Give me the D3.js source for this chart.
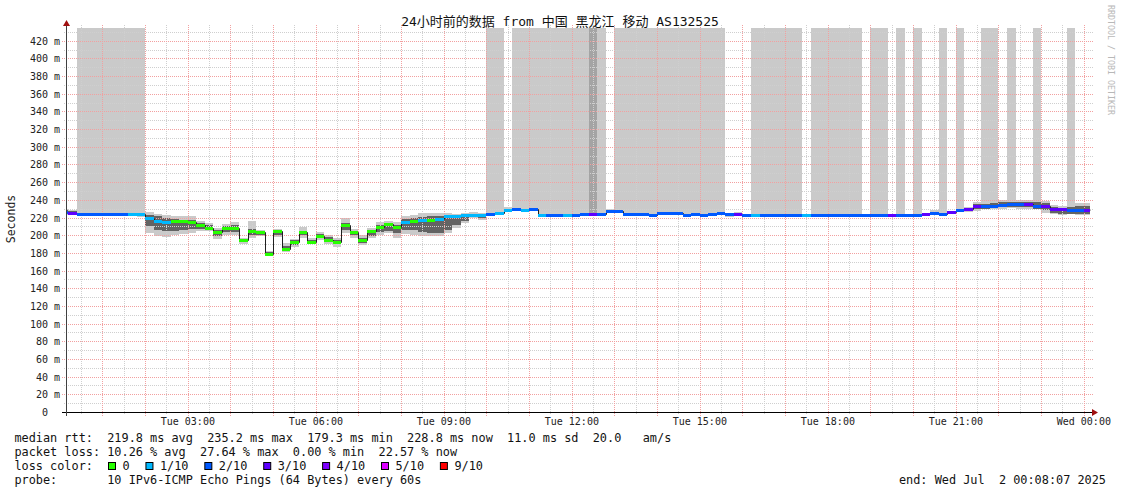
<!DOCTYPE html>
<html><head><meta charset="utf-8">
<script src="https://cdn.jsdelivr.net/npm/d3@7"></script>
<style>
body{margin:0;background:#fff;}
text{font-family:"DejaVu Sans Mono","Noto Sans CJK SC",monospace;white-space:pre;}
</style>
</head><body>
<svg id="chart" width="1121" height="494"></svg>
<script>
// ---------------- DATA ----------------
const N = null;
// 12-minute steps starting Tue 2025-07-01 00:00 (index 0) to Wed 00:00 (index 120)
const median = [
226.2,224.7,224.2,224.2,224.2,224.2,224.2,223.6,223.6,223.6,
219.0,216.3,214.5,216.3,215.6,214.8,211.8,208.4,203.5,207.7,
207.7,194.1,204.3,203.5,179.3,204.7,184.0,192.6,203.5,191.9,
198.6,194.5,192.2,211.1,203.5,194.5,204.7,209.2,212.6,209.2,
215.2,216.3,217.0,217.5,218.0,221.6,221.6,223.0,223.3,223.0,
223.6,225.2,229.0,230.0,228.4,229.4,223.4,223.3,223.3,223.3,
223.3,223.8,224.3,224.3,227.3,227.5,224.5,224.3,224.3,223.2,
225.5,225.5,225.5,223.3,223.6,223.0,223.6,224.6,224.3,224.3,
223.3,223.3,223.3,223.3,223.3,223.3,223.3,223.3,223.2,223.2,
223.2,223.2,223.2,223.2,223.2,223.2,223.2,223.2,223.2,223.2,
223.2,224.3,225.4,224.5,225.8,228.4,229.2,233.0,233.0,233.5,
234.5,235.2,234.8,234.8,233.6,233.6,229.6,229.2,228.7,228.7,228.0];
// lost pings (of 10) per step
const lostPings = [
2,3,2,2,2,2,2,2,1,1,
1,1,1,0,0,0,0,0,0,0,
0,0,0,0,0,0,0,0,0,0,
0,0,0,0,0,0,0,0,0,0,
1,0,1,0,1,1,1,1,1,1,
2,1,1,2,1,2,1,2,2,1,
2,2,3,2,2,2,2,2,2,2,
2,2,2,2,2,2,2,2,2,3,
2,1,2,2,2,2,2,1,2,2,
2,2,2,2,2,2,2,3,2,2,
2,3,2,2,3,2,3,3,2,2,
2,2,2,3,2,3,3,3,2,2,3];
// number of pings above the top of the chart per step
const offScale = [
0,0,1,1,1,1,1,1,1,1,
0,0,0,0,0,0,0,0,0,0,
0,0,0,0,0,0,0,0,0,0,
0,0,0,0,0,0,0,0,0,0,
0,0,0,0,0,0,0,0,0,0,
1,1,0,1,1,1,1,1,1,1,
1,1,2,1,0,1,1,1,1,1,
1,1,1,1,1,1,1,1,0,0,
0,1,1,1,1,1,1,0,1,1,
1,1,1,1,0,1,1,0,1,0,
1,0,0,1,0,1,0,0,1,1,
0,1,0,0,1,0,0,0,1,0,0];
// outer smoke (ms)
const smokeLo = [
222.4,222.4,224.2,224.2,224.2,224.2,224.2,223.6,223.6,221.0,
202.4,198.6,197.5,200.2,201.7,202.4,204.3,204.3,195.6,200.5,
200.5,190.4,196.8,198.6,177.2,198.0,180.6,186.6,197.0,189.6,
195.0,190.4,187.0,202.0,197.0,188.9,196.4,200.5,202.4,196.8,
201.7,200.5,199.4,198.6,198.6,202.4,208.1,213.7,219.3,217.5,
223.6,225.2,227.5,230.0,228.4,229.4,223.4,223.3,223.3,223.3,
223.3,223.8,224.3,224.3,225.5,227.5,224.5,224.3,224.3,223.2,
225.5,225.5,225.5,223.3,223.6,223.0,223.6,224.6,221.0,223.0,
222.5,223.3,223.3,223.3,223.3,223.3,223.3,222.5,223.2,223.2,
223.2,223.2,223.2,223.2,N,223.2,223.2,N,223.2,N,
223.2,N,224.0,224.5,224.5,228.4,226.0,227.3,229.1,230.0,
229.9,231.0,229.1,229.1,229.5,225.4,224.3,223.1,224.0,223.1,223.1];
const smokeHi = [
230.0,229.0,N,N,N,N,N,N,N,N,
225.7,224.2,223.1,222.0,221.2,221.2,215.6,213.7,208.1,212.6,
214.5,196.8,215.6,206.2,181.7,206.6,191.1,196.0,208.8,196.8,
203.2,200.2,196.8,219.0,207.0,200.2,207.7,215.0,216.0,214.5,
221.2,223.1,224.6,224.6,224.6,224.6,224.5,225.4,226.5,224.6,
N,N,231.5,N,N,N,N,N,N,N,
N,N,N,N,229.5,N,N,N,N,N,
N,N,N,N,N,N,N,N,225.5,226.5,
224.5,N,N,N,N,N,N,224.3,N,N,
N,N,N,N,N,N,N,N,N,N,
N,N,228.0,N,227.0,N,231.8,237.0,N,N,
239.3,N,239.3,239.3,N,238.6,233.7,232.6,N,236.3,236.3];
// dark smoke core (ms)
const coreLo = [
224.0,223.5,N,N,N,N,N,N,N,N,
210.0,206.2,204.3,204.3,206.2,207.0,207.5,206.2,199.0,203.5,
203.5,192.0,200.0,200.5,178.5,200.5,182.0,189.0,200.0,190.5,
196.5,192.0,189.5,206.0,200.0,191.0,199.0,204.0,205.0,202.0,
206.0,205.5,204.0,203.0,203.0,206.0,212.0,216.0,221.0,219.5,
N,N,228.0,N,N,N,N,N,N,N,
N,N,N,N,226.5,N,N,N,N,N,
N,N,N,N,N,N,N,N,N,N,
N,N,N,N,N,N,N,N,N,N,
N,N,N,N,N,N,N,N,N,N,
N,N,N,N,N,N,227.5,230.0,230.0,231.0,
231.5,231.5,231.5,231.5,229.5,228.0,225.0,224.2,224.0,224.2,224.2];
const coreHi = [
228.0,227.0,N,N,N,N,N,N,N,N,
223.1,221.2,219.3,218.2,217.5,217.5,213.7,211.0,206.0,210.5,
211.0,196.0,207.0,205.0,181.0,205.5,188.0,194.5,205.0,194.5,
201.0,198.0,194.5,214.0,205.0,197.0,205.5,212.0,214.0,211.0,
218.0,220.0,221.0,221.5,222.0,223.0,223.0,224.0,224.5,223.5,
N,N,230.0,N,N,N,N,N,N,N,
N,N,N,N,228.5,N,N,N,N,N,
N,N,N,N,N,N,N,N,N,N,
N,N,N,N,N,N,N,N,N,N,
N,N,N,N,N,N,N,N,N,N,
N,N,N,N,N,N,230.5,235.5,235.5,236.0,
237.5,237.5,237.5,237.5,237.0,236.5,232.0,231.0,232.0,233.5,233.5];

const yTicks = [0,20,40,60,80,100,120,140,160,180,200,220,240,260,280,300,320,340,360,380,400,420];
const yTickLabels = ["0","20 m","40 m","60 m","80 m","100 m","120 m","140 m","160 m","180 m","200 m","220 m","240 m","260 m","280 m","300 m","320 m","340 m","360 m","380 m","400 m","420 m"];
const xTickHours = [3,6,9,12,15,18,21,24];
const xTickLabels = ["Tue 03:00","Tue 06:00","Tue 09:00","Tue 12:00","Tue 15:00","Tue 18:00","Tue 21:00","Wed 00:00"];

const lossBuckets = [0,1,2,3,4,5,9];
const lossLabels = ["0","1/10","2/10","3/10","4/10","5/10","9/10"];
const lossColors = ["#26ff00","#00b8ff","#0059ff","#5e00ff","#7e00ff","#dd00ff","#ff0000"];

const rttStats = ["219.8","235.2","179.3","228.8","11.0","20.0"];
const lossStats = ["10.26","27.64","0.00","22.57"];

const titleText = "24小时前的数据 from 中国 黑龙江 移动 AS132525";
const probeText = "10 IPv6-ICMP Echo Pings (64 Bytes) every 60s";
const endText = "end: Wed Jul  2 00:08:07 2025";

// ---------------- CHART ----------------
const svg = d3.select("#chart");
svg.append("rect").attr("width",1121).attr("height",494).attr("fill","#fff");

const t0 = new Date(Date.UTC(2025,6,1,0,8,7));
const t1 = new Date(Date.UTC(2025,6,2,0,8,7));
const origin = Date.UTC(2025,6,1,0,0,0);
const stepMs = 12*60*1000;
const L = 65.6, R = 1089.6, T = 28, B = 412;
const x = d3.scaleUtc().domain([t0,t1]).range([L,R]);
const y = d3.scaleLinear().domain([0,434.4]).range([B,T]);

const steps = median.map((m,i)=>({
  i, m,
  s: new Date(Math.max(+t0, origin+i*stepMs)),
  e: new Date(Math.min(+t1, origin+(i+1)*stepMs))
})).filter(d=>d.e>d.s);

const AX = Math.round(L); // y axis pixel column
svg.append("defs").append("clipPath").attr("id","plot")
  .append("rect").attr("x",AX+1).attr("y",T).attr("width",R-AX).attr("height",B-T);

const plot = svg.append("g").attr("clip-path","url(#plot)");
const px = v => Math.round(x(v));

// smoke
const smokeG = plot.append("g").attr("shape-rendering","crispEdges");
steps.forEach(d=>{
  const i=d.i;
  if (smokeLo[i]==null) return;
  const x0=px(d.s), x1=px(d.e);
  let top;
  if (offScale[i]>0) top=T; else if (smokeHi[i]!=null) top=y(smokeHi[i]); else return;
  smokeG.append("rect").attr("x",x0).attr("width",x1-x0)
    .attr("y",top).attr("height",Math.max(0,y(smokeLo[i])-top))
    .attr("fill", offScale[i]>=2 ? "#a4a4a4" : "#cacaca");
});
steps.forEach(d=>{
  const i=d.i;
  if (coreLo[i]==null) return;
  const x0=px(d.s), x1=px(d.e);
  smokeG.append("rect").attr("x",x0).attr("width",x1-x0)
    .attr("y",y(coreHi[i])).attr("height",y(coreLo[i])-y(coreHi[i]))
    .attr("fill","#636363");
});

// grid
const gridG = svg.append("g");
const GR = 1093;
const minorY = d3.range(10,434,10).filter(v=>v%20!==0);
const majorY = yTicks.filter(v=>v>0);
gridG.selectAll("line.gyn").data(minorY).join("line").attr("class","gyn")
  .attr("x1",AX-2).attr("x2",GR).attr("y1",v=>Math.round(y(v))+0.5).attr("y2",v=>Math.round(y(v))+0.5)
  .attr("stroke","#cfcfcf").attr("stroke-dasharray","1,1");
const halfHours = x.ticks(d3.utcMinute.every(30)).filter(t=>t.getUTCMinutes()===30);
const hours = x.ticks(d3.utcHour.every(1));
gridG.selectAll("line.gxn").data(halfHours).join("line").attr("class","gxn")
  .attr("x1",t=>px(t)+0.5).attr("x2",t=>px(t)+0.5).attr("y1",25).attr("y2",B+2)
  .attr("stroke","#cfcfcf").attr("stroke-dasharray","1,1");
gridG.selectAll("line.gyj").data(majorY).join("line").attr("class","gyj")
  .attr("x1",AX-4).attr("x2",GR).attr("y1",v=>Math.round(y(v))+0.5).attr("y2",v=>Math.round(y(v))+0.5)
  .attr("stroke","#f2a0a0").attr("stroke-dasharray","1,1");
gridG.selectAll("line.gxj").data(hours).join("line").attr("class","gxj")
  .attr("x1",t=>px(t)+0.5).attr("x2",t=>px(t)+0.5).attr("y1",25).attr("y2",B+4)
  .attr("stroke","#f2a0a0").attr("stroke-dasharray","1,1");

// median line (black) and loss-coloured bands
const medPts = steps.map(d=>[d.s,d.m]).concat([[t1, steps[steps.length-1].m]]);
const lineG = svg.append("g").attr("clip-path","url(#plot)");
lineG.append("path")
  .attr("d", d3.line().x(d=>px(d[0])+0.5).y(d=>Math.round(y(d[1]))+0.5).curve(d3.curveStepAfter)(medPts))
  .attr("fill","none").attr("stroke","#202020").attr("stroke-width",1);
function lossColor(n){ let c=lossColors[0]; lossBuckets.forEach((b,k)=>{ if(n>=b) c=lossColors[k]; }); return c; }
lineG.append("g").attr("shape-rendering","crispEdges").selectAll("rect").data(steps).join("rect")
  .attr("x",d=>px(d.s)).attr("width",d=>px(d.e)-px(d.s))
  .attr("y",d=>Math.round(y(d.m))-1).attr("height",3)
  .attr("fill",d=>lossColor(lostPings[d.i]));

// axes
const axG = svg.append("g");
axG.append("line").attr("x1",62).attr("x2",1093).attr("y1",B+0.5).attr("y2",B+0.5).attr("stroke","#000");
axG.append("line").attr("x1",AX+0.5).attr("x2",AX+0.5).attr("y1",B+4).attr("y2",24).attr("stroke","#404040");
axG.append("path").attr("d",`M1092,${B-3}L1098,${B+0.5}L1092,${B+4}Z`).attr("fill","#a01010");
axG.append("path").attr("d",`M${AX-3},26L${AX+0.5},20L${AX+4},26Z`).attr("fill","#a01010");

// y tick labels
svg.append("g").selectAll("text").data(yTicks).join("text")
  .attr("x",60).attr("y",v=>Math.round(y(v))+4)
  .attr("text-anchor","end").attr("font-size","10px").attr("fill","#222")
  .text((v,k)=> yTickLabels[k] + (yTickLabels[k].includes("m") ? "" : "  "));

// x tick labels
svg.append("g").selectAll("text").data(xTickHours).join("text")
  .attr("x",h=>x(new Date(Date.UTC(2025,6,1,h,0,0))))
  .attr("y",425).attr("text-anchor","middle").attr("font-size","10px").attr("fill","#222")
  .text((h,k)=>xTickLabels[k]);

// title
svg.append("text").attr("x",560).attr("y",26).attr("text-anchor","middle")
  .attr("font-size","13px").attr("fill","#111").text(titleText);

// y axis title
svg.append("text").attr("transform","translate(15,219) rotate(-90)")
  .attr("text-anchor","middle").attr("font-size","11.5px").attr("fill","#222").text("Seconds");

// watermark
svg.append("text").attr("transform","translate(1108,5) rotate(90)")
  .attr("font-size","8.3px").attr("fill","#b8b8b8").text("RRDTOOL / TOBI OETIKER");

// legend
const LF = 11.87, CW = 7.147, LX = 14.4;
const leg = svg.append("g").attr("font-size",LF+"px").attr("fill","#111");
leg.append("text").attr("x",LX).attr("y",441.8)
  .text(`median rtt:  ${rttStats[0]} ms avg  ${rttStats[1]} ms max  ${rttStats[2]} ms min  ${rttStats[3]} ms now  ${rttStats[4]} ms sd  ${rttStats[5]}   am/s`);
leg.append("text").attr("x",LX).attr("y",455.9)
  .text(`packet loss: ${lossStats[0]} % avg  ${lossStats[1]} % max  ${lossStats[2]} % min  ${lossStats[3]} % now`);
leg.append("text").attr("x",LX).attr("y",470).text("loss color:");
let bx = 108;
lossLabels.forEach((lab,k)=>{
  leg.append("rect").attr("x",bx+0.5).attr("y",462.5).attr("width",7).attr("height",7)
    .attr("fill",lossColors[k]).attr("stroke","#000").attr("stroke-width",1);
  leg.append("text").attr("x",bx+14.5).attr("y",470).text(lab);
  bx = bx + 30.3 + CW*lab.length;
});
leg.append("text").attr("x",LX).attr("y",484.1).text("probe:       "+probeText);
leg.append("text").attr("x",1106).attr("y",484.1).attr("text-anchor","end").text(endText);
</script>
</body></html>
